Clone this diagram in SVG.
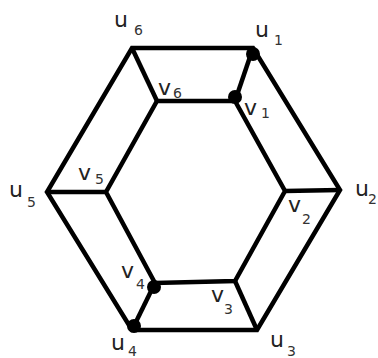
<svg xmlns="http://www.w3.org/2000/svg" width="378" height="358" viewBox="0 0 378 358">
<style>
.e{fill:none;stroke:#000;stroke-width:4.5;stroke-linejoin:miter;stroke-linecap:butt}
.d{fill:#000}
.l{font-family:"DejaVu Sans",Verdana,sans-serif;font-size:22px;fill:#222}
.s{font-family:"DejaVu Sans",Verdana,sans-serif;font-size:14px;fill:#333}
</style>
<rect width="378" height="358" fill="#fff"/>
<g id="connectors">
<polygon class="e" points="132,48 253,48 340,190 257,330 132,330 47,192"/>
<polygon class="e" points="157,101 235,101 285,191 235,281 155,283 106,192"/>
<line class="e" x1="132" y1="48" x2="157" y2="101"/>
<line class="e" x1="253" y1="48" x2="235" y2="101"/>
<line class="e" x1="340" y1="190" x2="285" y2="191"/>
<line class="e" x1="257" y1="330" x2="235" y2="281"/>
<line class="e" x1="132" y1="330" x2="155" y2="283"/>
<line class="e" x1="47" y1="192" x2="106" y2="192"/>
</g>
<g id="u1"><circle class="d" cx="253" cy="54" r="7"/><text class="l" x="255" y="37">u</text><text class="s" x="274" y="45">1</text></g>
<g id="u2"><text class="l" x="355" y="196">u</text><text class="s" x="368" y="204">2</text></g>
<g id="u3"><text class="l" x="270" y="347">u</text><text class="s" x="287" y="356">3</text></g>
<g id="u4"><circle class="d" cx="134" cy="326" r="7"/><text class="l" x="111" y="350">u</text><text class="s" x="128" y="356">4</text></g>
<g id="u5"><text class="l" x="9" y="197">u</text><text class="s" x="27" y="207">5</text></g>
<g id="u6"><text class="l" x="114" y="27">u</text><text class="s" x="134" y="35">6</text></g>
<g id="v1"><circle class="d" cx="235" cy="97" r="7"/><text class="l" x="244" y="115">v</text><text class="s" x="261" y="118">1</text></g>
<g id="v2"><text class="l" x="288" y="212">v</text><text class="s" x="302" y="224">2</text></g>
<g id="v3"><text class="l" x="211" y="302">v</text><text class="s" x="224" y="314">3</text></g>
<g id="v4"><circle class="d" cx="154" cy="287" r="7"/><text class="l" x="121" y="278">v</text><text class="s" x="136" y="289">4</text></g>
<g id="v5"><text class="l" x="78" y="180">v</text><text class="s" x="95" y="184">5</text></g>
<g id="v6"><text class="l" x="158" y="95">v</text><text class="s" x="173" y="98">6</text></g>
</svg>
